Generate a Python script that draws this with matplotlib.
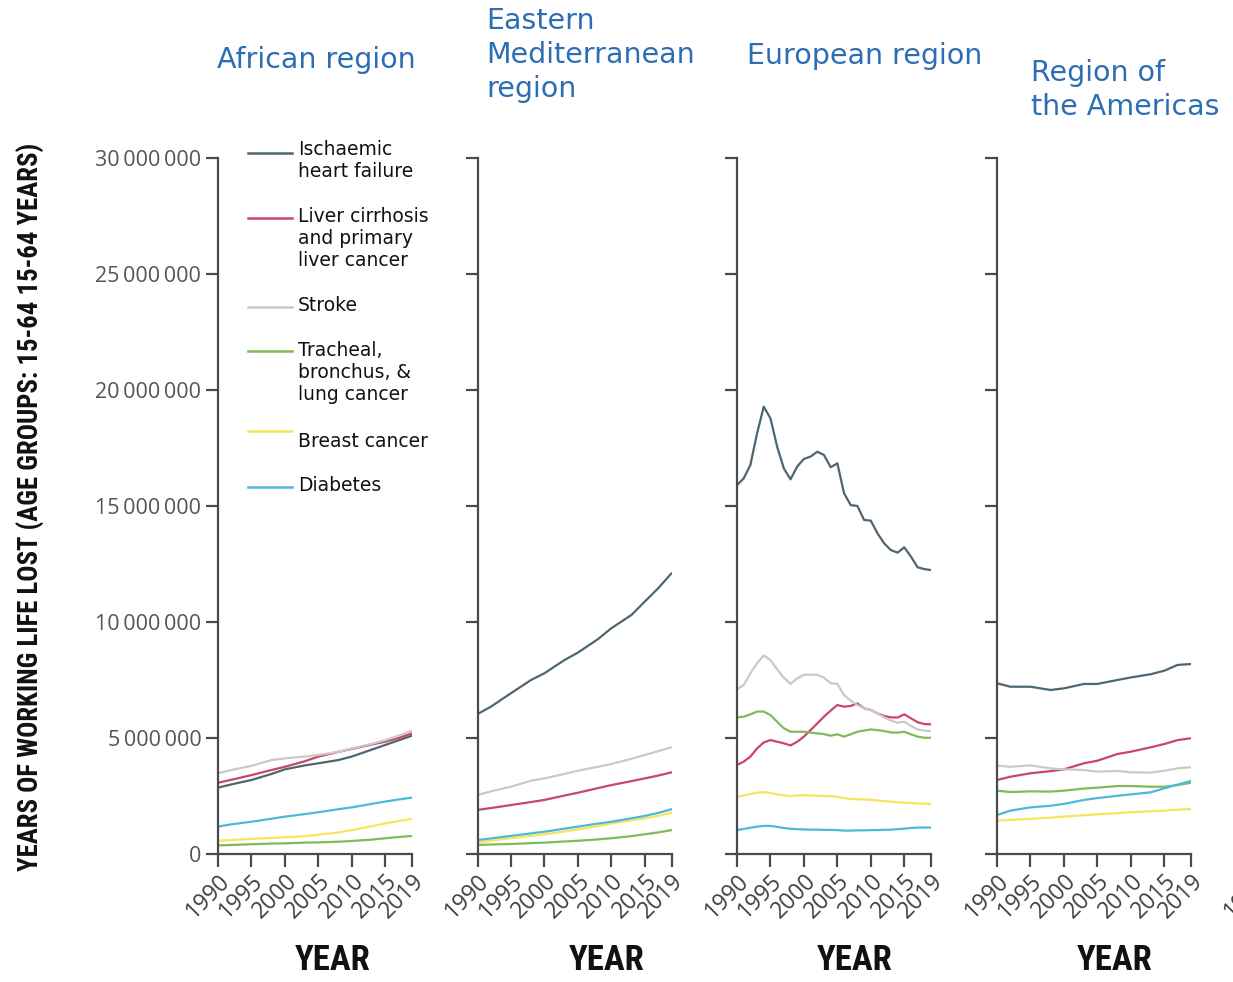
import matplotlib
matplotlib.use("Agg")
import matplotlib.pyplot as plt
from matplotlib import font_manager
from matplotlib.ticker import FuncFormatter

# -------------------------------
# Data (millions of working-life years lost)
# -------------------------------
YEARS = [1990, 1992, 1995, 1998, 2000, 2003, 2005, 2008, 2010, 2013, 2015, 2017, 2019]
YEARS_EUR = list(range(1990, 2020))

SERIES = ["Ischaemic\nheart failure",
          "Liver cirrhosis\nand primary\nliver cancer",
          "Stroke",
          "Tracheal,\nbronchus, &\nlung cancer",
          "Breast cancer",
          "Diabetes"]
COLORS = ["#4d6672", "#c9456d", "#c9c9c9", "#7dbb5b", "#f6e45c", "#4cb9d9"]

REGIONS = ["African region", "Eastern\nMediterranean\nregion", "European region",
           "Region of\nthe Americas"]

afr_ischaemic = [2.86, 3.00, 3.19, 3.45, 3.65, 3.82, 3.91, 4.05, 4.20, 4.50, 4.70, 4.90, 5.10]
afr_liver = [3.07, 3.20, 3.40, 3.62, 3.76, 4.00, 4.20, 4.40, 4.53, 4.72, 4.84, 5.00, 5.20]
afr_stroke = [3.48, 3.62, 3.80, 4.05, 4.12, 4.20, 4.27, 4.40, 4.55, 4.75, 4.91, 5.10, 5.32]
afr_lung = [0.37, 0.39, 0.42, 0.45, 0.46, 0.49, 0.50, 0.53, 0.56, 0.62, 0.68, 0.73, 0.78]
afr_breast = [0.57, 0.60, 0.65, 0.69, 0.72, 0.77, 0.83, 0.93, 1.03, 1.20, 1.32, 1.42, 1.51]
afr_diabetes = [1.18, 1.28, 1.39, 1.52, 1.61, 1.72, 1.80, 1.93, 2.01, 2.16, 2.26, 2.35, 2.43]

emr_ischaemic = [6.03, 6.35, 6.93, 7.50, 7.79, 8.36, 8.68, 9.26, 9.73, 10.30, 10.88, 11.45, 12.10]
emr_liver = [1.90, 1.98, 2.11, 2.24, 2.33, 2.52, 2.64, 2.84, 2.97, 3.14, 3.26, 3.38, 3.52]
emr_stroke = [2.54, 2.70, 2.90, 3.16, 3.26, 3.45, 3.59, 3.76, 3.88, 4.10, 4.27, 4.43, 4.60]
emr_lung = [0.39, 0.41, 0.43, 0.47, 0.49, 0.54, 0.57, 0.63, 0.68, 0.77, 0.85, 0.93, 1.03]
emr_breast = [0.50, 0.57, 0.68, 0.78, 0.85, 0.97, 1.06, 1.20, 1.32, 1.45, 1.54, 1.64, 1.78]
emr_diabetes = [0.60, 0.67, 0.78, 0.89, 0.96, 1.09, 1.18, 1.31, 1.39, 1.54, 1.64, 1.77, 1.93]

eur_ischaemic = [15.90, 16.19, 16.77, 18.13, 19.28, 18.78, 17.56, 16.62, 16.15, 16.70,
                 17.03, 17.13, 17.34, 17.20, 16.67, 16.84, 15.55, 15.04, 15.00, 14.40,
                 14.37, 13.82, 13.39, 13.10, 12.99, 13.22, 12.82, 12.36, 12.28, 12.24]
eur_liver = [3.84, 3.98, 4.20, 4.55, 4.81, 4.91, 4.84, 4.77, 4.68, 4.84,
             5.06, 5.34, 5.63, 5.92, 6.18, 6.42, 6.35, 6.38, 6.49, 6.28,
             6.21, 6.06, 5.95, 5.89, 5.88, 6.02, 5.85, 5.68, 5.60, 5.59]
eur_stroke = [7.10, 7.28, 7.79, 8.22, 8.56, 8.36, 7.96, 7.60, 7.33, 7.57,
              7.73, 7.73, 7.72, 7.60, 7.36, 7.33, 6.85, 6.61, 6.42, 6.28,
              6.21, 6.06, 5.89, 5.75, 5.66, 5.70, 5.52, 5.37, 5.32, 5.30]
eur_lung = [5.89, 5.92, 6.02, 6.14, 6.14, 5.99, 5.70, 5.42, 5.27, 5.27,
            5.27, 5.23, 5.20, 5.17, 5.10, 5.16, 5.06, 5.16, 5.27, 5.32,
            5.37, 5.34, 5.30, 5.24, 5.23, 5.27, 5.16, 5.06, 5.01, 5.01]
eur_breast = [2.47, 2.52, 2.59, 2.64, 2.67, 2.63, 2.57, 2.53, 2.50, 2.52,
              2.54, 2.52, 2.51, 2.50, 2.49, 2.47, 2.41, 2.37, 2.36, 2.35,
              2.33, 2.31, 2.28, 2.26, 2.23, 2.21, 2.20, 2.18, 2.17, 2.16]
eur_diabetes = [1.03, 1.08, 1.13, 1.18, 1.21, 1.21, 1.17, 1.12, 1.09, 1.07,
                1.06, 1.05, 1.05, 1.04, 1.04, 1.03, 1.01, 1.01, 1.02, 1.02,
                1.03, 1.03, 1.04, 1.05, 1.07, 1.09, 1.12, 1.14, 1.14, 1.14]

amr_ischaemic = [7.36, 7.21, 7.21, 7.07, 7.14, 7.33, 7.33, 7.50, 7.61, 7.75, 7.90, 8.15, 8.19]
amr_liver = [3.19, 3.33, 3.48, 3.57, 3.65, 3.91, 4.02, 4.31, 4.41, 4.60, 4.74, 4.91, 4.99]
amr_stroke = [3.81, 3.76, 3.82, 3.69, 3.65, 3.62, 3.55, 3.58, 3.52, 3.51, 3.59, 3.69, 3.74]
amr_lung = [2.73, 2.67, 2.70, 2.69, 2.73, 2.82, 2.86, 2.93, 2.93, 2.90, 2.90, 2.97, 3.07]
amr_breast = [1.44, 1.47, 1.51, 1.57, 1.61, 1.67, 1.71, 1.76, 1.80, 1.84, 1.87, 1.91, 1.94]
amr_diabetes = [1.68, 1.87, 2.01, 2.08, 2.16, 2.33, 2.41, 2.51, 2.57, 2.66, 2.83, 2.99, 3.15]

PANELS = [
    (YEARS, [afr_ischaemic, afr_liver, afr_stroke, afr_lung, afr_breast, afr_diabetes]),
    (YEARS, [emr_ischaemic, emr_liver, emr_stroke, emr_lung, emr_breast, emr_diabetes]),
    (YEARS_EUR, [eur_ischaemic, eur_liver, eur_stroke, eur_lung, eur_breast, eur_diabetes]),
    (YEARS, [amr_ischaemic, amr_liver, amr_stroke, amr_lung, amr_breast, amr_diabetes]),
]

X_TICKS = [1990, 1995, 2000, 2005, 2010, 2015, 2019]
Y_TICKS = [0, 5e6, 10e6, 15e6, 20e6, 25e6, 30e6]
Y_LABEL = "YEARS OF WORKING LIFE LOST (AGE GROUPS: 15-64 15-64 YEARS)"

# -------------------------------
# Layout / style
# -------------------------------
W, H = 1233, 982
TITLE_BLUE = "#2d6db4"
AXIS_GREY = "#4a4a4a"

installed = {f.name for f in font_manager.fontManager.ttflist}
# pick a condensed face if one is there, else fall back to DejaVu
CONDENSED = "DejaVu Sans"
for cand in ["Roboto Condensed", "Open Sans Condensed", "Liberation Sans Narrow",
             "DejaVu Sans Condensed", "Noto Sans Condensed"]:
    if cand in installed:
        CONDENSED = cand
        break

plt.rcParams["font.family"] = ["DejaVu Sans"]

fig = plt.figure(figsize=(W / 100, H / 100), dpi=100)

AX_LEFT_PX = [218, 477.5, 737, 997, 1256.5]
AX_W_PX = 194
AX_BOTTOM_PX, AX_TOP_PX = 854, 158


def yfmt(v, pos):
    return f"{int(v):,}".replace(",", "\u2009")


axes = []
for i, left in enumerate(AX_LEFT_PX):
    ax = fig.add_axes([left / W, 1 - AX_BOTTOM_PX / H, AX_W_PX / W,
                       (AX_BOTTOM_PX - AX_TOP_PX) / H])
    ax.set_xlim(1990, 2019)
    ax.set_ylim(0, 30e6)
    for s in ["top", "right"]:
        ax.spines[s].set_visible(False)
    for s in ["left", "bottom"]:
        ax.spines[s].set_color(AXIS_GREY)
        ax.spines[s].set_linewidth(1.6)
    # the fifth panel is off the page; only the start of its first label shows
    ax.set_xticks(X_TICKS if i < 4 else X_TICKS[:1])
    ax.set_yticks(Y_TICKS)
    ax.tick_params(axis="both", direction="out", length=9, width=1.6, color=AXIS_GREY)
    ax.tick_params(axis="x", labelsize=16.5, labelcolor="#404040", pad=2)
    ax.tick_params(axis="y", labelsize=15.5, labelcolor="#555555", pad=3)
    for lab in ax.get_xticklabels():
        lab.set_rotation(45)
        lab.set_ha("right")
        lab.set_va("top")
        lab.set_rotation_mode("anchor")
        lab.set_fontfamily(["Open Sans", "DejaVu Sans"])
    if i == 0:
        ax.yaxis.set_major_formatter(FuncFormatter(yfmt))
        for lab in ax.get_yticklabels():
            lab.set_fontfamily(["Open Sans", "DejaVu Sans"])
    else:
        ax.set_yticklabels([])
    ax.patch.set_alpha(0)
    axes.append(ax)

for ax, (years, series) in zip(axes, PANELS):
    for vals, color in zip(series, COLORS):
        ax.plot(years, [v * 1e6 for v in vals], color=color, lw=1.6, solid_capstyle="round")

# panel titles
TITLE_POS = [(217, 60), (486, 55), (747, 56), (1031, 90)]
for (tx, ty), name in zip(TITLE_POS, REGIONS):
    fig.text(tx / W, 1 - ty / H, name, color=TITLE_BLUE, fontsize=20.5,
             ha="left", va="center", linespacing=1.27)

# x axis labels and y axis label, sized to the reference's extents
YEAR_X = [333, 607, 855, 1115]
year_texts = [fig.text(x / W, 1 - 961 / H, "YEAR", fontsize=28, fontweight="bold",
                       family=CONDENSED, fontstretch="condensed",
                       ha="center", va="center", color="#111111") for x in YEAR_X]
ylab = fig.text(31 / W, 1 - 507 / H, Y_LABEL, rotation=90, fontsize=22, fontweight="bold",
                family=CONDENSED, fontstretch="condensed",
                ha="center", va="center", color="#111111")

# legend drawn inside the first panel
ax0 = axes[0]
LEG_LINE_Y = [153, 218, 307, 351, 431, 487]
LEG_TEXT_Y = [151, 218, 307, 352, 443, 487]
for lab, color, ly, tyy in zip(SERIES, COLORS, LEG_LINE_Y, LEG_TEXT_Y):
    yl = (AX_BOTTOM_PX - ly) / (AX_BOTTOM_PX - AX_TOP_PX)
    ax0.plot([(248 - 218) / AX_W_PX, (292 - 218) / AX_W_PX], [yl, yl],
             transform=ax0.transAxes, color=color, lw=1.8, clip_on=False)
    yt = (AX_BOTTOM_PX - (tyy - 11)) / (AX_BOTTOM_PX - AX_TOP_PX)
    ax0.text((298 - 218) / AX_W_PX, yt, lab, transform=ax0.transAxes, fontsize=13.5,
             ha="left", va="top", linespacing=1.2, color="#111111")

renderer = fig.canvas.get_renderer()
bb = ylab.get_window_extent(renderer)
ylab.set_fontsize(ylab.get_fontsize() * 725 / bb.height)
for t in year_texts:
    bb = t.get_window_extent(renderer)
    # compromise between reference width (66 px) and its cap height
    t.set_fontsize(min(t.get_fontsize() * 76 / bb.width, 32))

fig.savefig("out.png", dpi=100)
